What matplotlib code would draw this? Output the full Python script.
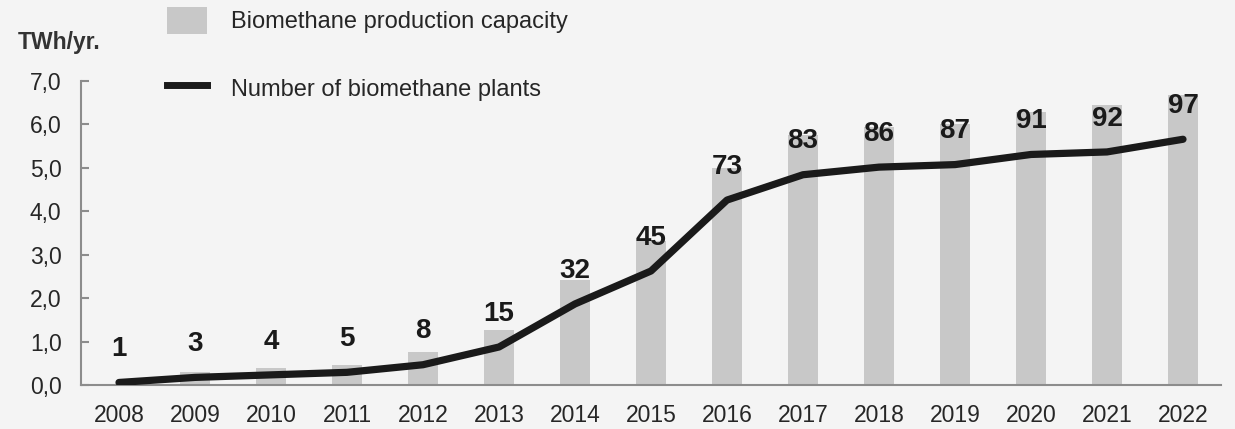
import matplotlib.pyplot as plt
from matplotlib.patches import Patch
from matplotlib.lines import Line2D
from matplotlib.ticker import FuncFormatter

years = ['2008', '2009', '2010', '2011', '2012', '2013', '2014', '2015',
         '2016', '2017', '2018', '2019', '2020', '2021', '2022']
capacity = [0.03, 0.31, 0.40, 0.45, 0.76, 1.27, 2.42, 3.31,
            4.99, 5.76, 5.95, 6.02, 6.29, 6.44, 6.68]   # TWh/yr
plants = [1, 3, 4, 5, 8, 15, 32, 45, 73, 83, 86, 87, 91, 92, 97]

bg = '#f4f4f4'
txt = '#262626'
plt.rcParams['font.family'] = ['Liberation Sans', 'DejaVu Sans']

fig = plt.figure(figsize=(12.35, 4.29), dpi=100, facecolor=bg)
ax = fig.add_axes([81 / 1235, 1 - 385 / 429, 1140 / 1235, 304 / 429])
ax.set_facecolor(bg)

x = list(range(len(years)))
ax.bar(x, capacity, width=0.39, color='#c8c8c8', zorder=2)
ax.set_xlim(-0.5, 14.5)
ax.set_ylim(0, 7)
ax.set_yticks(range(8))
ax.yaxis.set_major_formatter(FuncFormatter(lambda v, p: f'{v:.1f}'.replace('.', ',')))
ax.set_xticks(x)
ax.set_xticklabels(years)

for s in ['top', 'right']:
    ax.spines[s].set_visible(False)
for s in ['left', 'bottom']:
    ax.spines[s].set_color('#8c8c8c')
    ax.spines[s].set_linewidth(1.5)
ax.tick_params(axis='y', direction='in', length=6, width=1.5, color='#8c8c8c',
               labelsize=16.5, labelcolor=txt, pad=14)
ax.tick_params(axis='x', length=0, labelsize=16.5, labelcolor=txt, pad=14)

# number of plants on a hidden second scale
ax2 = ax.twinx()
ax2.set_ylim(0, 120)
ax2.axis('off')
ax2.plot(x, plants, color='#1a1a1a', lw=5.2, solid_capstyle='round',
         solid_joinstyle='round', zorder=3)
for xi, n in zip(x, plants):
    ax2.annotate(str(n), (xi, n), xytext=(0, 24), textcoords='offset points',
                 ha='center', va='center', fontsize=20, fontweight='bold',
                 color='#1a1a1a')

fig.text(18 / 1235, 1 - 43 / 429, 'TWh/yr.', fontsize=16.5, fontweight='bold',
         color='#333333', va='center', ha='left')

handles = [Patch(facecolor='#c8c8c8', edgecolor='none'),
           Line2D([], [], color='#1a1a1a', lw=5)]
fig.legend(handles, ['Biomethane production capacity', 'Number of biomethane plants'],
           loc='upper left', bbox_to_anchor=(167 / 1235, 1 - 7 / 429),
           frameon=False, fontsize=17, labelcolor=txt, handlelength=1.7,
           handleheight=1.4, handletextpad=1.0, labelspacing=1.7,
           borderpad=0, borderaxespad=0)

fig.savefig('out.png', dpi=100, facecolor=bg)
